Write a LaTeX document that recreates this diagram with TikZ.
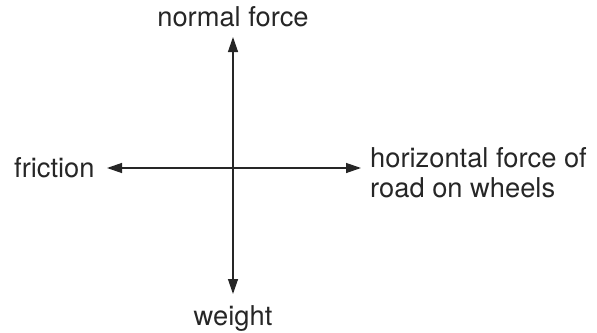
\documentclass[tikz,border=0pt]{standalone}
\usepackage{fontspec}
\setmainfont{TeX Gyre Heros}
\usetikzlibrary{arrows.meta,positioning}
\tikzset{
  force/.style={-{Triangle[length=15pt,width=10pt]}, line width=1.3pt, black!85},
  flabel/.style={font=\fontsize{27.3}{30}\selectfont, text=black!85, inner sep=0pt, align=left}
}
\begin{document}
\begin{tikzpicture}[x=1pt,y=1pt]
  \useasboundingbox (0,0) rectangle (597,-332);
  \coordinate (O) at (233,-168);
  \coordinate (N) at (233,-37);
  \coordinate (W) at (233,-294);
  \coordinate (F) at (107,-168);
  \coordinate (H) at (361,-168);
  % forces on the car
  \draw[force] (O) -- (N);
  \draw[force] (O) -- (W);
  \draw[force] (O) -- (F);
  \draw[force] (O) -- (H);
  \node[flabel, anchor=base] (normal) at (233,-27) {normal force};
  \node[flabel, anchor=base] (weight) at (233,-325) {weight};
  \node[flabel, anchor=base west] (friction) at (14,-177) {friction};
  \node[flabel, anchor=base west] (road) at (370,-197) {horizontal force of\\road on wheels};
\end{tikzpicture}
\end{document}
